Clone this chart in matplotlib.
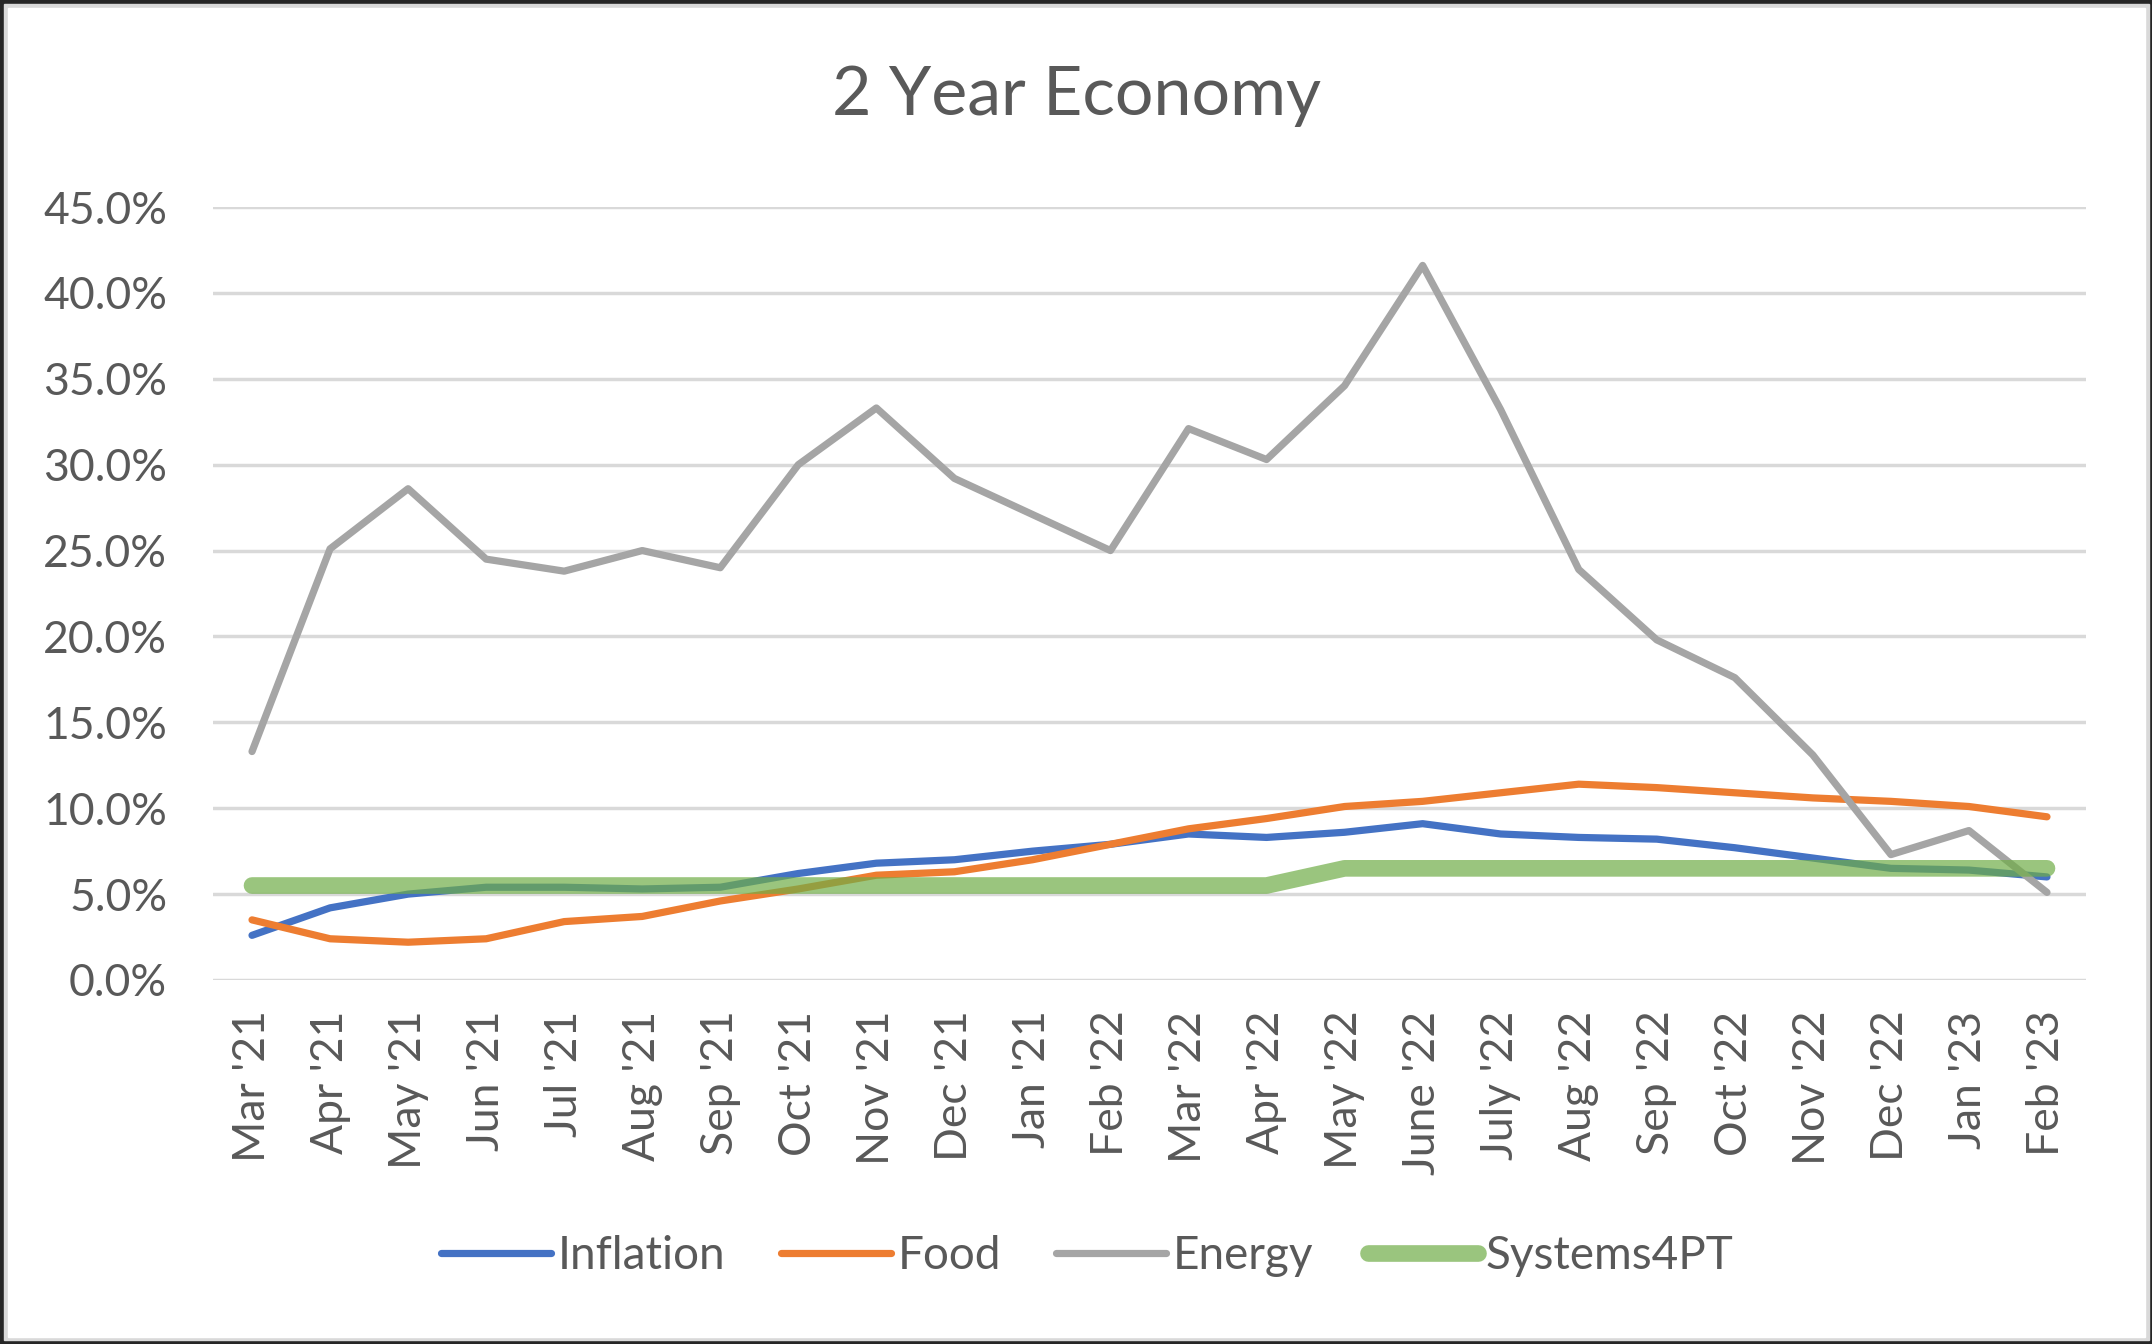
import matplotlib
matplotlib.use("Agg")
import matplotlib.pyplot as plt
from matplotlib.patches import Rectangle
from matplotlib.ticker import FuncFormatter

months = ["Mar '21", "Apr '21", "May '21", "Jun '21", "Jul '21", "Aug '21",
          "Sep '21", "Oct '21", "Nov '21", "Dec '21", "Jan '21", "Feb '22",
          "Mar '22", "Apr '22", "May '22", "June '22", "July '22", "Aug '22",
          "Sep '22", "Oct '22", "Nov '22", "Dec '22", "Jan '23", "Feb '23"]

inflation = [2.6, 4.2, 5.0, 5.4, 5.4, 5.3, 5.4, 6.2, 6.8, 7.0, 7.5, 7.9,
             8.5, 8.3, 8.6, 9.1, 8.5, 8.3, 8.2, 7.7, 7.1, 6.5, 6.4, 6.0]
food = [3.5, 2.4, 2.2, 2.4, 3.4, 3.7, 4.6, 5.3, 6.1, 6.3, 7.0, 7.9,
        8.8, 9.4, 10.1, 10.4, 10.9, 11.4, 11.2, 10.9, 10.6, 10.4, 10.1, 9.5]
energy = [13.3, 25.1, 28.6, 24.5, 23.8, 25.0, 24.0, 30.0, 33.3, 29.2, 27.1, 25.0,
          32.1, 30.3, 34.6, 41.6, 33.2, 23.9, 19.8, 17.6, 13.1, 7.3, 8.7, 5.1]
systems4pt = [5.5] * 14 + [6.5] * 10

txt = "#595959"
plt.rcParams['font.family'] = ['Lato', 'DejaVu Sans']
plt.rcParams['lines.solid_capstyle'] = 'round'

W, H = 2152, 1344
fig = plt.figure(figsize=(W / 100, H / 100), dpi=100)
fig.patch.set_facecolor("#262626")
fig.patches.append(Rectangle((4 / W, 4 / H), 1 - 7 / W, 1 - 8 / H,
                             transform=fig.transFigure, color="#D9D9D9", zorder=-2))
fig.patches.append(Rectangle((8 / W, 7 / H), 1 - 15 / W, 1 - 15 / H,
                             transform=fig.transFigure, color="white", zorder=-1))

ax = fig.add_axes([213 / W, 1 - 980 / H, (2086 - 213) / W, (980 - 207) / H])
ax.set_facecolor("none")

x = range(len(months))
ax.plot(x, inflation, color="#4472C4", lw=5.2, label="Inflation", zorder=3)
ax.plot(x, food, color="#ED7D31", lw=5.2, label="Food", zorder=3)
ax.plot(x, energy, color="#A5A5A5", lw=5.2, label="Energy", zorder=3)
ax.plot(x, systems4pt, color="#70AD47", alpha=0.7, lw=12, label="Systems4PT", zorder=4)

ax.set_xlim(-0.5, len(months) - 0.5)
ax.set_ylim(0, 45)
ax.set_yticks(range(0, 46, 5))
ax.yaxis.set_major_formatter(FuncFormatter(lambda v, p: f"{v:.1f}%"))
ax.set_xticks(list(x))
ax.set_xticklabels(months, rotation=90, va="top", ha="center")
ax.grid(axis="y", color="#D9D9D9", lw=2.5)
ax.set_axisbelow(True)
for s in ax.spines.values():
    s.set_visible(False)
ax.tick_params(axis="both", length=0, labelsize=32, labelcolor=txt)
ax.tick_params(axis="y", pad=33)
ax.tick_params(axis="x", pad=22)

fig.text(1077 / W, 1 - 96 / H, "2 Year Economy", ha="center", va="center",
         fontsize=49, color=txt)

leg = fig.legend(loc="center", bbox_to_anchor=(1087 / W, 1 - 1256 / H), ncol=4,
                 frameon=False, fontsize=33, handlelength=2.4,
                 handletextpad=0.15, columnspacing=1.2)
for t in leg.get_texts():
    t.set_color(txt)

fig.savefig("out.png", dpi=100, facecolor=fig.get_facecolor())
